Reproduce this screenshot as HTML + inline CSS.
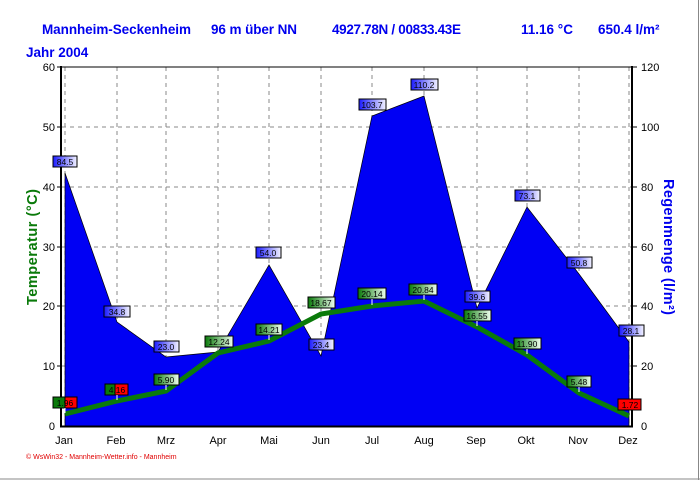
<!DOCTYPE html>
<html><head><meta charset="utf-8"><style>
body{margin:0;background:#fff}
svg{display:block;font-family:"Liberation Sans",Arial,sans-serif}
</style></head><body>
<svg width="700" height="480" viewBox="0 0 700 480" xmlns="http://www.w3.org/2000/svg">
<defs>
<linearGradient id="gb" x1="0" x2="1"><stop offset="0" stop-color="#1a1aff"/><stop offset="1" stop-color="#f4f4ff"/></linearGradient>
<linearGradient id="gg" x1="0" x2="1"><stop offset="0" stop-color="#0a7a0a"/><stop offset="1" stop-color="#f0fff0"/></linearGradient>
</defs>
<rect width="700" height="480" fill="#fff"/>
<line x1="0" y1="479" x2="700" y2="479" stroke="#888"/>
<line x1="698.5" y1="0" x2="698.5" y2="480" stroke="#888"/>
<g fill="#0000ee" font-weight="bold" font-size="13.5">
<text x="42" y="34" textLength="149">Mannheim-Seckenheim</text>
<text x="211" y="34" textLength="86">96 m über NN</text>
<text x="332" y="34" textLength="129">4927.78N / 00833.43E</text>
<text x="521" y="34">11.16 °C</text>
<text x="598" y="34">650.4 l/m²</text>
<text x="26" y="57">Jahr  2004</text>
</g>
<!-- grid -->
<g stroke="#888" stroke-dasharray="4,4">
<line x1="62" y1="127" x2="632" y2="127"/><line x1="62" y1="187" x2="632" y2="187"/>
<line x1="62" y1="247" x2="632" y2="247"/><line x1="62" y1="306" x2="632" y2="306"/>
<line x1="62" y1="366" x2="632" y2="366"/>
<line x1="65" y1="67" x2="65" y2="426"/><line x1="117" y1="67" x2="117" y2="426"/><line x1="166" y1="67" x2="166" y2="426"/><line x1="218" y1="67" x2="218" y2="426"/><line x1="269" y1="67" x2="269" y2="426"/><line x1="321" y1="67" x2="321" y2="426"/><line x1="372" y1="67" x2="372" y2="426"/><line x1="424" y1="67" x2="424" y2="426"/><line x1="477" y1="67" x2="477" y2="426"/><line x1="527" y1="67" x2="527" y2="426"/><line x1="579" y1="67" x2="579" y2="426"/><line x1="629" y1="67" x2="629" y2="426"/>
</g>
<!-- rain -->
<polygon fill="#0000f4" stroke="#000" stroke-width="0.7" points="65,426 65,173 117,322 166,357 218,352 269,265 321,356 372,116 424,96 477,308 527,207 579,274 629,342 629,426"/>
<!-- temp -->
<polyline fill="none" stroke="#0a7a0a" stroke-width="5" points="65,414 117,401 166,391 218,353 269,341 321,314 372,306 424,301 477,327 527,355 579,393 629,416"/>
<!-- axes -->
<line x1="62" y1="67" x2="632" y2="67" stroke="#000"/>
<line x1="61" y1="66" x2="61" y2="427" stroke="#000" stroke-width="2"/>
<line x1="632" y1="66" x2="632" y2="427" stroke="#000" stroke-width="2"/>
<line x1="60" y1="426.5" x2="633" y2="426.5" stroke="#000" stroke-width="2"/>
<g stroke="#000">
<line x1="57" y1="67" x2="61" y2="67"/><line x1="57" y1="127" x2="61" y2="127"/><line x1="57" y1="187" x2="61" y2="187"/><line x1="57" y1="247" x2="61" y2="247"/><line x1="57" y1="306" x2="61" y2="306"/><line x1="57" y1="366" x2="61" y2="366"/>
<line x1="632" y1="67" x2="637" y2="67"/><line x1="632" y1="127" x2="637" y2="127"/><line x1="632" y1="187" x2="637" y2="187"/><line x1="632" y1="247" x2="637" y2="247"/><line x1="632" y1="306" x2="637" y2="306"/><line x1="632" y1="366" x2="637" y2="366"/>
</g>
<g font-size="11" fill="#000" text-anchor="end">
<text x="55" y="71">60</text><text x="55" y="131">50</text><text x="55" y="191">40</text><text x="55" y="251">30</text><text x="55" y="310">20</text><text x="55" y="370">10</text><text x="55" y="430">0</text>
</g>
<g font-size="11" fill="#000">
<text x="641" y="71">120</text><text x="641" y="131">100</text><text x="641" y="191">80</text><text x="641" y="251">60</text><text x="641" y="310">40</text><text x="641" y="370">20</text><text x="641" y="430">0</text>
</g>
<g font-size="11" fill="#000" text-anchor="middle">
<text x="64" y="444">Jan</text><text x="116" y="444">Feb</text><text x="166" y="444">Mrz</text><text x="218" y="444">Apr</text><text x="269" y="444">Mai</text><text x="321" y="444">Jun</text><text x="372" y="444">Jul</text><text x="424" y="444">Aug</text><text x="476" y="444">Sep</text><text x="526" y="444">Okt</text><text x="578" y="444">Nov</text><text x="628" y="444">Dez</text>
</g>
<text transform="translate(37,247) rotate(-90)" text-anchor="middle" font-size="14.5" font-weight="bold" fill="#0a7a0a" textLength="116">Temperatur  (°C)</text>
<text transform="translate(664,247) rotate(90)" text-anchor="middle" font-size="14.5" font-weight="bold" fill="#0000ee" textLength="136">Regenmenge  (l/m²)</text>
<text x="26" y="459" font-size="7" fill="#e00000">© WsWin32 - Mannheim-Wetter.info - Mannheim</text>
<!-- labels -->
<g font-size="8.5" text-anchor="middle" stroke="#000" stroke-width="1">
<g fill="url(#gb)">
<rect x="53" y="156" width="24" height="11"/><rect x="104" y="306" width="26" height="11"/><rect x="154" y="341" width="25" height="11"/><rect x="256" y="247" width="25" height="11"/><rect x="309" y="339" width="25" height="11"/><rect x="359" y="99" width="27" height="11"/><rect x="411" y="79" width="27" height="11"/><rect x="465" y="291" width="25" height="11"/><rect x="515" y="190" width="25" height="11"/><rect x="567" y="257" width="25" height="11"/><rect x="619" y="325" width="25" height="11"/>
</g>
<g fill="url(#gg)">
<rect x="205" y="336" width="28" height="11"/><rect x="256" y="324" width="26" height="11"/><rect x="308" y="297" width="27" height="11"/><rect x="358" y="288" width="28" height="11"/><rect x="409" y="284" width="28" height="11"/><rect x="464" y="310" width="27" height="11"/><rect x="514" y="338" width="27" height="11"/><rect x="567" y="376" width="24" height="11"/><rect x="154" y="374" width="25" height="11"/>
</g>
<g fill="#ff0000"><rect x="53" y="397" width="24" height="11"/><rect x="105" y="384" width="23" height="11"/><rect x="618" y="399" width="23" height="11"/></g>
<g fill="#0a7a0a"><rect x="53" y="397" width="12" height="11"/><rect x="105" y="384" width="10" height="11"/></g>
</g>
<g stroke="#fff"><line x1="65" y1="408" x2="65" y2="413"/><line x1="117" y1="395" x2="117" y2="400"/><line x1="166" y1="385" x2="166" y2="390"/><line x1="269" y1="335" x2="269" y2="340"/><line x1="372" y1="299" x2="372" y2="305"/><line x1="424" y1="295" x2="424" y2="300"/><line x1="477" y1="321" x2="477" y2="326"/><line x1="527" y1="349" x2="527" y2="354"/><line x1="579" y1="387" x2="579" y2="392"/></g>
<g font-size="8.5" text-anchor="middle" fill="#000">
<text x="65" y="165">84.5</text><text x="117" y="315">34.8</text><text x="166" y="350">23.0</text><text x="268" y="256">54.0</text><text x="321" y="348">23.4</text><text x="372" y="108">103.7</text><text x="424" y="88">110.2</text><text x="477" y="300">39.6</text><text x="527" y="199">73.1</text><text x="579" y="266">50.8</text><text x="631" y="334">28.1</text>
<text x="219" y="345">12.24</text><text x="269" y="333">14.21</text><text x="321" y="306">18.67</text><text x="372" y="297">20.14</text><text x="423" y="293">20.84</text><text x="477" y="319">16.55</text><text x="527" y="347">11.90</text><text x="579" y="385">5.48</text>
<text x="65" y="406">1.96</text><text x="117" y="393">4.16</text><text x="166" y="383">5.90</text><text x="630" y="408">1.72</text>
</g>
</svg>
</body></html>
